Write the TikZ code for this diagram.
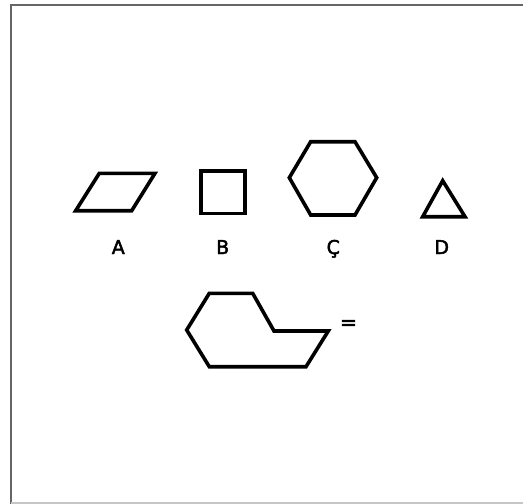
\documentclass[tikz,border=0pt]{standalone}
\usepackage{fontspec}
\setmainfont{DejaVu Sans}
\newfontfamily\lblfont{DejaVu Sans}[FakeBold=2.5]
\newfontfamily\eqfont{DejaVu Sans}[FakeBold=3]
\begin{document}
\begin{tikzpicture}[x=1pt,y=-1pt,
  outl/.style={draw=black,line width=3.6pt,line join=miter},
  lbl/.style={font=\fontsize{19}{22}\lblfont,inner sep=0pt}]
\useasboundingbox (0,0) rectangle (523,504);
\fill[white] (0,0) rectangle (523,504);
% frame
\draw[black!60,line width=2pt] (523,4.5) -- (10.5,4.5) -- (10.5,504);
\draw[gray!45,line width=1.5pt] (10.5,503) -- (523,503);
% A parallelogram
\draw[outl] (75.7,210.7) -- (131.7,210.7) -- (155,173.3) -- (99.3,173.3) -- cycle;
% B square
\draw[outl] (200.7,170.7) rectangle (245,213.3);
% C hexagon
\draw[outl] (289.3,177.7) -- (310.7,141.7) -- (355,141.7) -- (376.7,177.7) -- (355,215) -- (310.7,215) -- cycle;
% D triangle
\draw[outl] (442.7,180.7) -- (465,216.7) -- (422.7,216.7) -- cycle;
% labels
\node[lbl,anchor=base] (la) at (118.3,254) {A};
\node[lbl,anchor=base] (lb) at (222.7,254) {B};
\node[lbl,anchor=base] (lc) at (333.3,254) {Ç};
\node[lbl,anchor=base] (ld) at (441.7,254) {D};
% compound shape
\draw[outl] (186.7,330) -- (209.3,293.3) -- (252.7,293.3) -- (274,331) -- (328.3,331) -- (306,366.7) -- (209.3,366.7) -- cycle;
\node[inner sep=0pt,font=\fontsize{20}{22}\eqfont] (eq) at (348.5,324.7) {=};
\end{tikzpicture}
\end{document}
